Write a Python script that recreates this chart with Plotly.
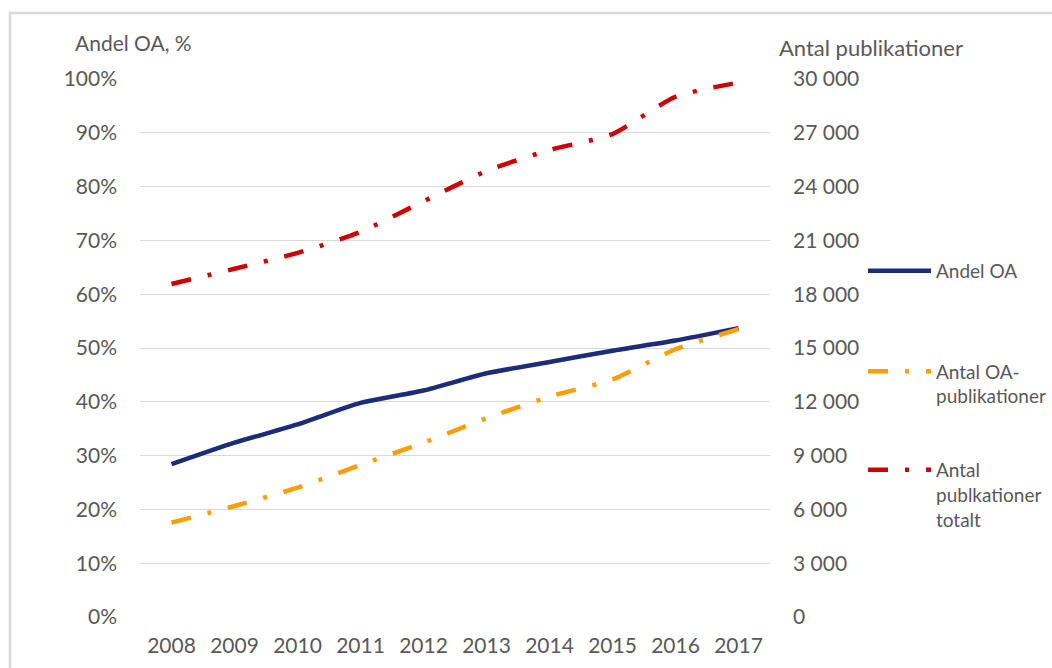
import plotly.graph_objects as go

years = ["2008", "2009", "2010", "2011", "2012", "2013", "2014", "2015", "2016", "2017"]
andel_oa = [28.4, 32.4, 35.8, 39.8, 42.1, 45.3, 47.4, 49.5, 51.4, 53.7]
antal_oa = [5260, 6190, 7210, 8480, 9720, 11080, 12290, 13250, 14930, 16050]
antal_totalt = [18570, 19420, 20300, 21470, 23180, 24870, 26040, 26930, 29010, 29800]

left_ticks = list(range(0, 101, 10))
left_labels = [f"{v}%" for v in left_ticks]
right_ticks = list(range(0, 30001, 3000))

W, H = 1052, 668
L, R, T, B = 140, 770, 79, 617
PW, PH = R - L, B - T

GRAY = "#595959"
FONT = "Lato"
FS = 21
LFS = 19
DASHDOT = "20px,17px,4px,17px"

def px_x(x):
    return (x - L) / PW

def px_y(y):
    return (B - y) / PH

fig = go.Figure()
fig.add_trace(go.Scatter(
    x=years, y=andel_oa, name="Andel OA", mode="lines",
    line=dict(color="#1C2B7A", width=4.5, shape="spline", smoothing=0.6),
    legend="legend", yaxis="y", showlegend=True))
fig.add_trace(go.Scatter(
    x=years, y=antal_oa, name="Antal OA-<br>publikationer", mode="lines",
    line=dict(color="#FF9E00", width=4.5, dash=DASHDOT, shape="spline", smoothing=0.6),
    legend="legend2", yaxis="y2", showlegend=True))
fig.add_trace(go.Scatter(
    x=years, y=antal_totalt, name="Antal<br>publkationer<br>totalt", mode="lines",
    line=dict(color="#D10000", width=4.5, dash=DASHDOT, shape="spline", smoothing=0.6),
    legend="legend3", yaxis="y2", showlegend=True))

leg_common = dict(font=dict(family=FONT, size=LFS, color=GRAY), bgcolor="rgba(0,0,0,0)",
                  xanchor="left", yanchor="middle", itemwidth=63, valign="top")

fig.update_layout(
    width=W, height=H,
    margin=dict(l=L, r=W - R, t=T, b=H - B, pad=0, autoexpand=False),
    paper_bgcolor="white", plot_bgcolor="white",
    showlegend=True,
    separators=", ",
    font=dict(family=FONT, size=FS, color=GRAY),
    xaxis=dict(type="category", range=[-0.5, 9.5], showgrid=False, zeroline=False,
               showline=False, ticks="outside", ticklen=10, tickcolor="rgba(0,0,0,0)",
               tickfont=dict(family=FONT, size=FS, color=GRAY)),
    yaxis=dict(range=[0, 100], tickvals=left_ticks, ticktext=left_labels,
               showgrid=True, gridcolor="#D9D9D9", gridwidth=1.3, zeroline=False,
               showline=False, ticks="", ticklabelstandoff=22,
               tickfont=dict(family=FONT, size=FS, color=GRAY)),
    yaxis2=dict(range=[0, 30000], tickvals=right_ticks, tickformat=",d",
                overlaying="y", side="right", showgrid=False, zeroline=False,
                showline=False, ticks="", ticklabelstandoff=22,
                tickfont=dict(family=FONT, size=FS, color=GRAY)),
    legend=dict(x=px_x(863), y=px_y(271), **leg_common),
    legend2=dict(x=px_x(863), y=px_y(384), **leg_common),
    legend3=dict(x=px_x(863), y=px_y(495), **leg_common),
    annotations=[
        dict(text="Andel OA, %", xref="paper", yref="paper", x=px_x(73), y=px_y(42),
             xanchor="left", yanchor="middle", showarrow=False,
             font=dict(family=FONT, size=FS, color=GRAY)),
        dict(text="Antal publikationer", xref="paper", yref="paper", x=px_x(777), y=px_y(47),
             xanchor="left", yanchor="middle", showarrow=False,
             font=dict(family=FONT, size=22, color=GRAY)),
    ],
    shapes=[
        dict(type="rect", xref="paper", yref="paper", x0=px_x(10), y0=px_y(700),
             x1=px_x(1100), y1=px_y(13), line=dict(color="#D9D9D9", width=2.5),
             fillcolor="rgba(0,0,0,0)", layer="below"),
    ],
)

fig.write_html(
    "out.html",
    config={"displayModeBar": False},
    post_script="document.body.style.margin='0';document.body.style.overflow='hidden';",
)
